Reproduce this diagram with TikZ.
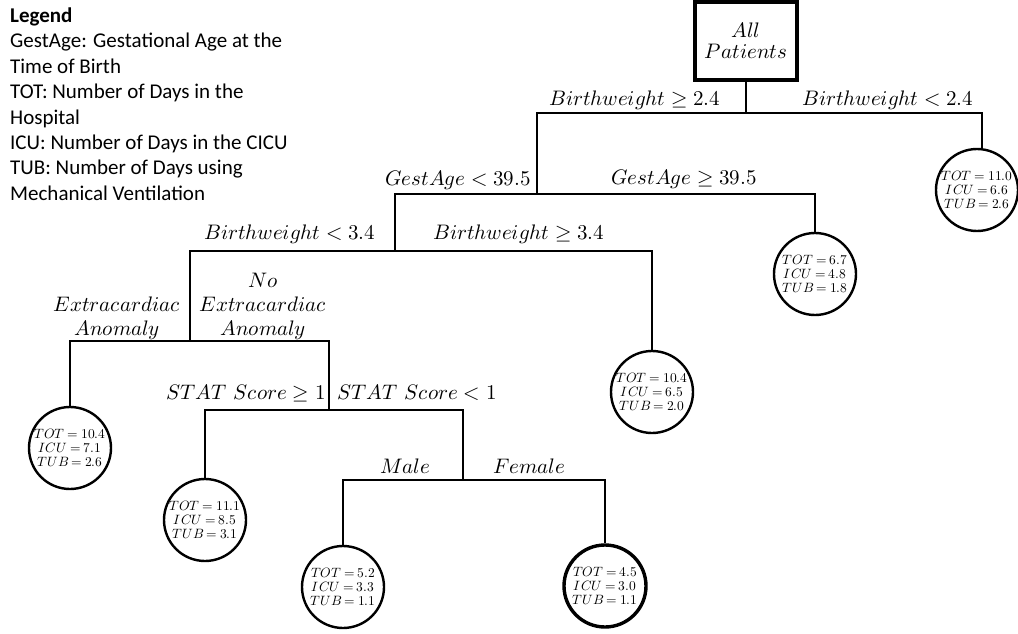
\documentclass[tikz,border=0pt]{standalone}
\usepackage{fontspec}
\usepackage{unicode-math}
\setmathfont{Latin Modern Math}
\newfontfamily\legendfont{Carlito}
% three outcome lines of a leaf, with slightly tighter spacing round "="
\newcommand\leafvals[3]{%
  $TOT\mkern4mu{=}\mkern4mu#1$\\$ICU\mkern4mu{=}\mkern4mu#2$\\$TUB\mkern4mu{=}\mkern4mu#3$}
\begin{document}
\begin{tikzpicture}[x=1pt,y=-1pt,
  conn/.style={line width=2.4pt},
  leaf/.style={circle, draw, line width=2.4pt, minimum size=82pt, inner sep=-8pt,
    align=center, font=\fontsize{13.5}{14.2}\selectfont},
  cond/.style={anchor=base, inner sep=0pt, align=center, font=\fontsize{21}{24}\selectfont},
  rootbox/.style={draw, line width=4pt, minimum width=102pt, minimum height=78pt,
    inner sep=0pt, align=center, font=\fontsize{21}{21}\selectfont},
]
\useasboundingbox (0,0) rectangle (1018,634);

% legend
\node[anchor=north west, inner sep=0pt, align=left,
  font=\legendfont\fontsize{21}{25.4}\selectfont] (legend) at (10,7.5)
  {\textbf{Legend}\\GestAge: Gestational Age at the\\Time of Birth\\TOT: Number of Days in the\\Hospital\\ICU: Number of Days in the CICU\\TUB: Number of Days using\\Mechanical Ventilation};

% root
\node[rootbox] (root) at (746,41) {$All$\\$Patients$};

% split points
\coordinate (j1) at (746,113);
\coordinate (j2) at (537,194);
\coordinate (j3) at (395,251);
\coordinate (j4) at (190,341);
\coordinate (j5) at (329,410);
\coordinate (j6) at (463,480);

% leaves
\node[leaf] (la) at (977,190) {\leafvals{11.0}{6.6}{2.6}};
\node[leaf] (lb) at (815,274) {\leafvals{6.7}{4.8}{1.8}};
\node[leaf] (lc) at (652,392) {\leafvals{10.4}{6.5}{2.0}};
\node[leaf] (ld) at (70,448) {\leafvals{10.4}{7.1}{2.6}};
\node[leaf] (le) at (205,520) {\leafvals{11.1}{8.5}{3.1}};
\node[leaf] (lf) at (343,587) {\leafvals{5.2}{3.3}{1.1}};
\node[leaf, line width=3.4pt] (lg) at (605,586) {\leafvals{4.5}{3.0}{1.1}};

% connectors
\draw[conn] (root.south) -- (j1);
\draw[conn] (j2) |- (j1) -| (la.83);
\draw[conn] (j3) |- (j2) -| (lb.north);
\draw[conn] (j4) |- (j3) -| (lc.north);
\draw[conn] (ld.north) |- (j4) -| (j5);
\draw[conn] (le.north) |- (j5) -| (j6);
\draw[conn] (lf.north) |- (j6) -| (lg.north);

% split conditions
\node[cond] (c1) at (635,106) {$Birthweight \geq 2.4$};
\node[cond] (c2) at (888,106) {$Birthweight < 2.4$};
\node[cond] (c3) at (458,185) {$GestAge < 39.5$};
\node[cond] (c4) at (684,184) {$GestAge \geq 39.5$};
\node[cond] (c5) at (290,239) {$Birthweight < 3.4$};
\node[cond] (c6) at (519,239) {$Birthweight \geq 3.4$};
\node[cond] (c7) at (117,335) {$Extracardiac$\\$Anomaly$};
\node[cond] (c8) at (263,335) {$No$\\$Extracardiac$\\$Anomaly$};
\node[cond] (c9) at (246,399) {$STAT\ Score \geq 1$};
\node[cond] (c10) at (417,399) {$STAT\ Score < 1$};
\node[cond] (c11) at (405,473) {$Male$};
\node[cond] (c12) at (529,473) {$Female$};
\end{tikzpicture}
\end{document}
